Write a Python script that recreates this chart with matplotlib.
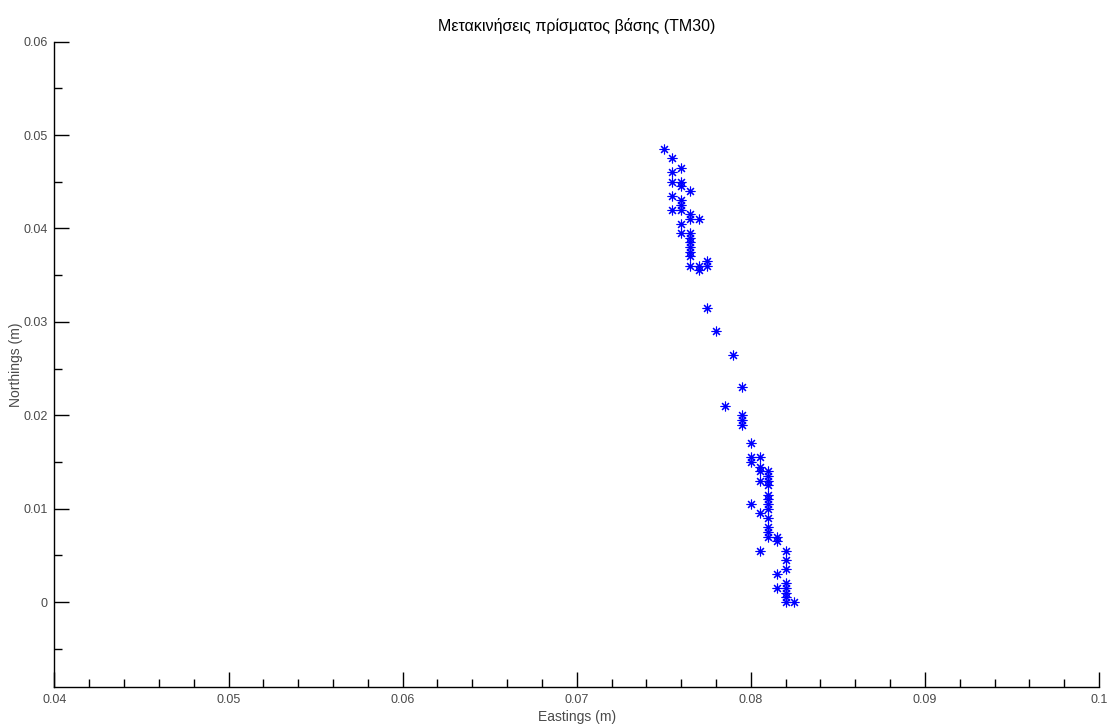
import matplotlib
matplotlib.use("Agg")
import matplotlib.pyplot as plt
from matplotlib.ticker import FixedLocator

plt.rcParams["font.family"] = ["Liberation Sans Narrow", "Liberation Sans", "DejaVu Sans"]

# prism displacements (m)
eastings = [
    0.0750, 0.0755, 0.0760, 0.0755, 0.0755, 0.0760, 0.0760, 0.0765, 0.0755, 0.0760,
    0.0760, 0.0755, 0.0760, 0.0765, 0.0765, 0.0770, 0.0760, 0.0760, 0.0765, 0.0765,
    0.0765, 0.0765, 0.0765, 0.0765, 0.0765, 0.0770, 0.0770, 0.0775, 0.0775,
    0.0775, 0.0780, 0.0790, 0.0795, 0.0785, 0.0795, 0.0795, 0.0795,
    0.0800, 0.0800, 0.0805, 0.0800, 0.0805, 0.0805, 0.0810, 0.0810, 0.0805, 0.0810,
    0.0810, 0.0810, 0.0810, 0.0810, 0.0800, 0.0810, 0.0805, 0.0810,
    0.0810, 0.0810, 0.0810, 0.0815, 0.0815, 0.0805, 0.0820, 0.0820, 0.0820, 0.0815,
    0.0815, 0.0820, 0.0820, 0.0820, 0.0820, 0.0820, 0.0825,
]
northings = [
    0.0485, 0.0475, 0.0465, 0.0460, 0.0450, 0.0450, 0.0445, 0.0440, 0.0435, 0.0430,
    0.0425, 0.0420, 0.0420, 0.0415, 0.0410, 0.0410, 0.0405, 0.0395, 0.0395, 0.0390,
    0.0385, 0.0380, 0.0375, 0.0370, 0.0360, 0.0360, 0.0355, 0.0365, 0.0360,
    0.0315, 0.0290, 0.0265, 0.0230, 0.0210, 0.0200, 0.0195, 0.0190,
    0.0170, 0.0155, 0.0155, 0.0150, 0.0145, 0.0140, 0.0140, 0.0135, 0.0130, 0.0130,
    0.0125, 0.0115, 0.0110, 0.0105, 0.0105, 0.0100, 0.0095, 0.0090,
    0.0080, 0.0075, 0.0070, 0.0070, 0.0065, 0.0055, 0.0055, 0.0045, 0.0035, 0.0030,
    0.0015, 0.0020, 0.0015, 0.0010, 0.0005, 0.0000, 0.0000,
]

x_ticks = [0.04, 0.05, 0.06, 0.07, 0.08, 0.09, 0.1]
x_tick_labels = ["0.04", "0.05", "0.06", "0.07", "0.08", "0.09", "0.1"]
y_ticks = [0, 0.01, 0.02, 0.03, 0.04, 0.05, 0.06]
y_tick_labels = ["0", "0.01", "0.02", "0.03", "0.04", "0.05", "0.06"]

fig = plt.figure(figsize=(11.07, 7.26), dpi=100)
ax = fig.add_axes([0.0492, 0.0537, 0.9436, 0.8889])

ax.plot(eastings, northings, linestyle="none", marker=(8, 2, 0),
        markersize=7, markeredgewidth=0.8, color="#0000ff")

ax.set_xlim(0.04, 0.1)
ax.set_ylim(-0.0091, 0.06)
ax.set_xticks(x_ticks)
ax.set_xticklabels(x_tick_labels)
ax.set_yticks(y_ticks)
ax.set_yticklabels(y_tick_labels)
ax.xaxis.set_minor_locator(FixedLocator([0.04 + 0.002 * i for i in range(31) if i % 5]))
ax.yaxis.set_minor_locator(FixedLocator([-0.005, 0.005, 0.015, 0.025, 0.035, 0.045, 0.055]))

for side in ("top", "right"):
    ax.spines[side].set_visible(False)
for side in ("left", "bottom"):
    ax.spines[side].set_linewidth(1.0)
    ax.spines[side].set_color("black")

ax.tick_params(which="major", direction="in", length=11, width=1, color="black",
               labelsize=9, labelcolor="#4a4a4a", pad=5)
ax.tick_params(which="minor", direction="in", length=6, width=1, color="black")

ax.set_title("Μετακινήσεις πρίσματος βάσης (ΤΜ30)", fontsize=11.5, color="black", pad=8)
ax.set_xlabel("Eastings (m)", fontsize=10, color="#4a4a4a", labelpad=3)
ax.set_ylabel("Northings (m)", fontsize=10, color="#4a4a4a")
ax.yaxis.set_label_coords(-0.030, 0.5)

fig.savefig("out.png", dpi=100, facecolor="white")
